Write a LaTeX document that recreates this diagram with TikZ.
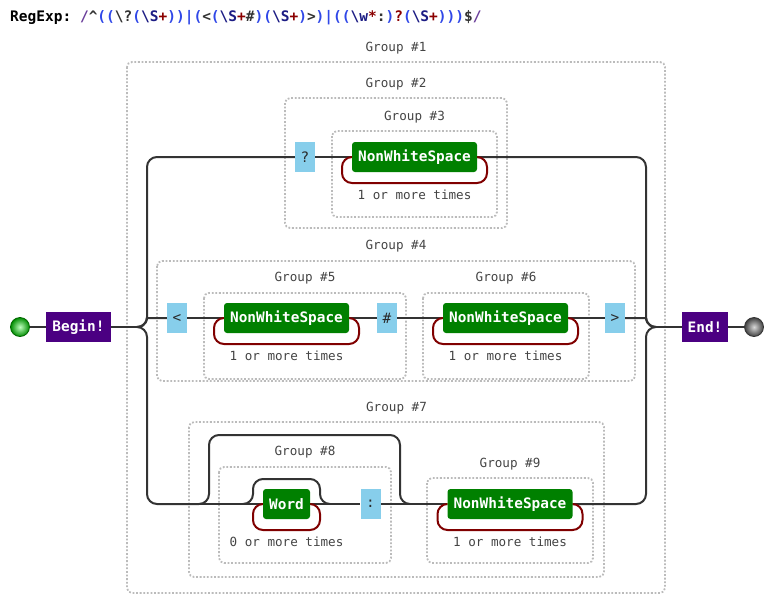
\documentclass[tikz,border=0pt]{standalone}
\usepackage{fontspec}
\setmonofont{DejaVu Sans Mono}
\definecolor{wirec}{HTML}{333333}
\definecolor{loopc}{HTML}{800000}
\definecolor{grpc}{HTML}{BBBBBB}
\definecolor{labc}{HTML}{444444}
\definecolor{subjc}{HTML}{008000}
\definecolor{litc}{HTML}{87CEEB}
\definecolor{littc}{HTML}{2A2A2A}
\definecolor{anchc}{HTML}{4B0082}
\definecolor{rxparen}{HTML}{3048E8}
\definecolor{rxsl}{HTML}{6A3D9A}
\definecolor{rxnav}{HTML}{1C1C84}
\definecolor{rxq}{HTML}{8B0000}
\definecolor{rxlit}{HTML}{333333}
\newcommand\nodefnt{\ttfamily\fontsize{14.4}{16}\selectfont}
\newcommand\labfnt{\ttfamily\fontsize{12.6}{14}\selectfont}
\newcommand\rxP[1]{\textcolor{rxparen}{#1}}
\newcommand\rxD[1]{\textcolor{rxsl}{#1}}
\newcommand\rxS[1]{\textcolor{rxnav}{#1}}
\newcommand\rxQ[1]{\textcolor{rxq}{#1}}
\newcommand\rxL[1]{\textcolor{rxlit}{#1}}
\pgfdeclarelayer{back}
\pgfsetlayers{back,main}
\tikzset{
  wire/.style={draw=wirec, line width=2pt, rounded corners=10pt},
  loopwire/.style={draw=loopc, line width=2pt, rounded corners=10pt},
  grp/.style={draw=grpc, line width=1.8pt, dash pattern=on 1.8pt off 1.8pt, rounded corners=5pt},
  glab/.style={text=labc, font=\labfnt, inner sep=0pt},
  subj/.style={fill=subjc, text=white, font=\nodefnt\bfseries, rounded corners=3pt, minimum height=30pt, inner sep=0pt},
  lit/.style={fill=litc, text=littc, font=\nodefnt, minimum width=20pt, minimum height=30pt, inner sep=0pt},
  anch/.style={fill=anchc, text=white, font=\nodefnt\bfseries, minimum height=30pt, inner sep=0pt},
}
\begin{document}
\begin{tikzpicture}[x=1pt,y=-1pt]
\useasboundingbox (0,0) rectangle (775,605);
% title
\node[anchor=west, inner sep=0pt, font=\ttfamily\fontsize{14.5}{16}\selectfont\bfseries] (title) at (10,18)
 {RegExp: \rxD{/}\rxL{\textasciicircum}\rxP{((}\rxL{\textbackslash?}\rxP{(}\rxS{\textbackslash S}\rxQ{+}\rxP{))|(}\rxL{<}\rxP{(}\rxS{\textbackslash S}\rxQ{+}\rxL{\#}\rxP{)(}\rxS{\textbackslash S}\rxQ{+}\rxP{)}\rxL{>}\rxP{)|((}\rxS{\textbackslash w}\rxQ{*}\rxL{:}\rxP{)}\rxQ{?}\rxP{(}\rxS{\textbackslash S}\rxQ{+}\rxP{)))}\rxL{\$}\rxD{/}};
% group labels
\node[glab] (g1l) at (396,48) {Group \#1};
\node[glab] (g2l) at (396,84) {Group \#2};
\node[glab] (g3l) at (414.5,117) {Group \#3};
\node[glab] (g4l) at (396,246) {Group \#4};
\node[glab] (g5l) at (305,278) {Group \#5};
\node[glab] (g6l) at (506,278) {Group \#6};
\node[glab] (g7l) at (396.5,408) {Group \#7};
\node[glab] (g8l) at (305,452) {Group \#8};
\node[glab] (g9l) at (510,464) {Group \#9};
% terminals
\node[circle, minimum size=19pt, inner sep=0pt, draw=black!60!green, line width=0.8pt, inner color=green!25!white, outer color=green!55!black] (st) at (20,327) {};
\node[circle, minimum size=19pt, inner sep=0pt, draw=black!80, line width=0.8pt, inner color=white!85!black, outer color=black!75] (ec) at (754,327) {};
\node[anch, minimum width=65pt] (bg) at (78.5,327) {Begin!};
\node[anch, minimum width=46pt] (en) at (705,327) {End!};
% top branch
\node[lit] (q1) at (305,157) {?};
\node[subj, minimum width=125pt] (n1) at (414.5,157) {NonWhiteSpace};
\node[glab] (t1) at (414.5,195) {1 or more times};
% middle branch
\node[lit] (lt) at (177,318) {<};
\node[subj, minimum width=125pt] (n5) at (286.5,318) {NonWhiteSpace};
\node[glab] (t5) at (286.5,356) {1 or more times};
\node[lit] (hs) at (387,318) {\#};
\node[subj, minimum width=125pt] (n6) at (505.5,318) {NonWhiteSpace};
\node[glab] (t6) at (505.5,356) {1 or more times};
\node[lit] (gt) at (615,318) {>};
% bottom branch
\node[subj, minimum width=47pt] (wd) at (286.5,504) {Word};
\node[glab] (t8) at (286.5,542) {0 or more times};
\node[lit] (cl) at (370.5,504) {:};
\node[subj, minimum width=125pt] (n9) at (510,504) {NonWhiteSpace};
\node[glab] (t9) at (510,542) {1 or more times};
% junction coordinates
\coordinate (L) at (137,327);
\coordinate (R) at (656,327);
\coordinate (b8) at (199,504);
\coordinate (e8) at (410,504);
\coordinate (bw) at (243,504);
\coordinate (ew) at (330,504);
\begin{pgfonlayer}{back}
\fill[white] (0,0) rectangle (775,605);
% groups
\draw[grp] (127,62) rectangle (665,593);
\draw[grp] (285,98) rectangle (507,228);
\draw[grp] (332,131) rectangle (497,217);
\draw[grp] (157,261) rectangle (635,381);
\draw[grp] (204,293) rectangle (406,379);
\draw[grp] (423,293) rectangle (589,379);
\draw[grp] (189,422) rectangle (604,577);
\draw[grp] (219,467) rectangle (391,563);
\draw[grp] (427,478) rectangle (593,563);
% wires
\draw[wire] (st) -- (bg);
\draw[wire] (bg.east) -- (L);
\draw[wire] (en) -- (ec);
\draw[wire] (R) -- (en.west);
% top
\draw[wire] (L) -- (147,327) -- (147,157) -- (q1.west);
\draw[wire] (q1.east) -- (n1.west);
\draw[wire] (n1.east) -- (646,157) -- (646,327) -- (R);
\draw[loopwire] (n1.west) -- (342,157) -- (342,183) -- (487,183) -- (487,157) -- (n1.east);
% middle
\draw[wire] (L) .. controls (147,327) and (147,318) .. (157,318) -- (lt.west);
\draw[wire] (lt.east) -- (n5.west);
\draw[wire] (n5.east) -- (hs.west);
\draw[wire] (hs.east) -- (n6.west);
\draw[wire] (n6.east) -- (gt.west);
\draw[wire] (gt.east) -- (636,318) .. controls (646,318) and (646,327) .. (R);
\draw[loopwire] (n5.west) -- (214,318) -- (214,344) -- (359,344) -- (359,318) -- (n5.east);
\draw[loopwire] (n6.west) -- (433,318) -- (433,344) -- (578,344) -- (578,318) -- (n6.east);
% bottom
\draw[wire] (L) -- (147,327) -- (147,504) -- (b8);
\draw[wire] (b8) -- (bw);
\draw[wire] (bw) -- (wd.west);
\draw[wire] (wd.east) -- (ew);
\draw[wire] (ew) -- (cl.west);
\draw[wire] (cl.east) -- (e8);
\draw[wire] (e8) -- (n9.west);
\draw[wire] (n9.east) -- (646,504) -- (646,327) -- (R);
\draw[wire] (b8) -- (209,504) -- (209,435) -- (400,435) -- (400,504) -- (e8);
\draw[wire] (bw) -- (253,504) -- (253,479) -- (320,479) -- (320,504) -- (ew);
\draw[loopwire] (wd.west) -- (253,504) -- (253,530) -- (320,530) -- (320,504) -- (wd.east);
\draw[loopwire] (n9.west) -- (437.5,504) -- (437.5,530) -- (582.5,530) -- (582.5,504) -- (n9.east);
\end{pgfonlayer}
\end{tikzpicture}
\end{document}
